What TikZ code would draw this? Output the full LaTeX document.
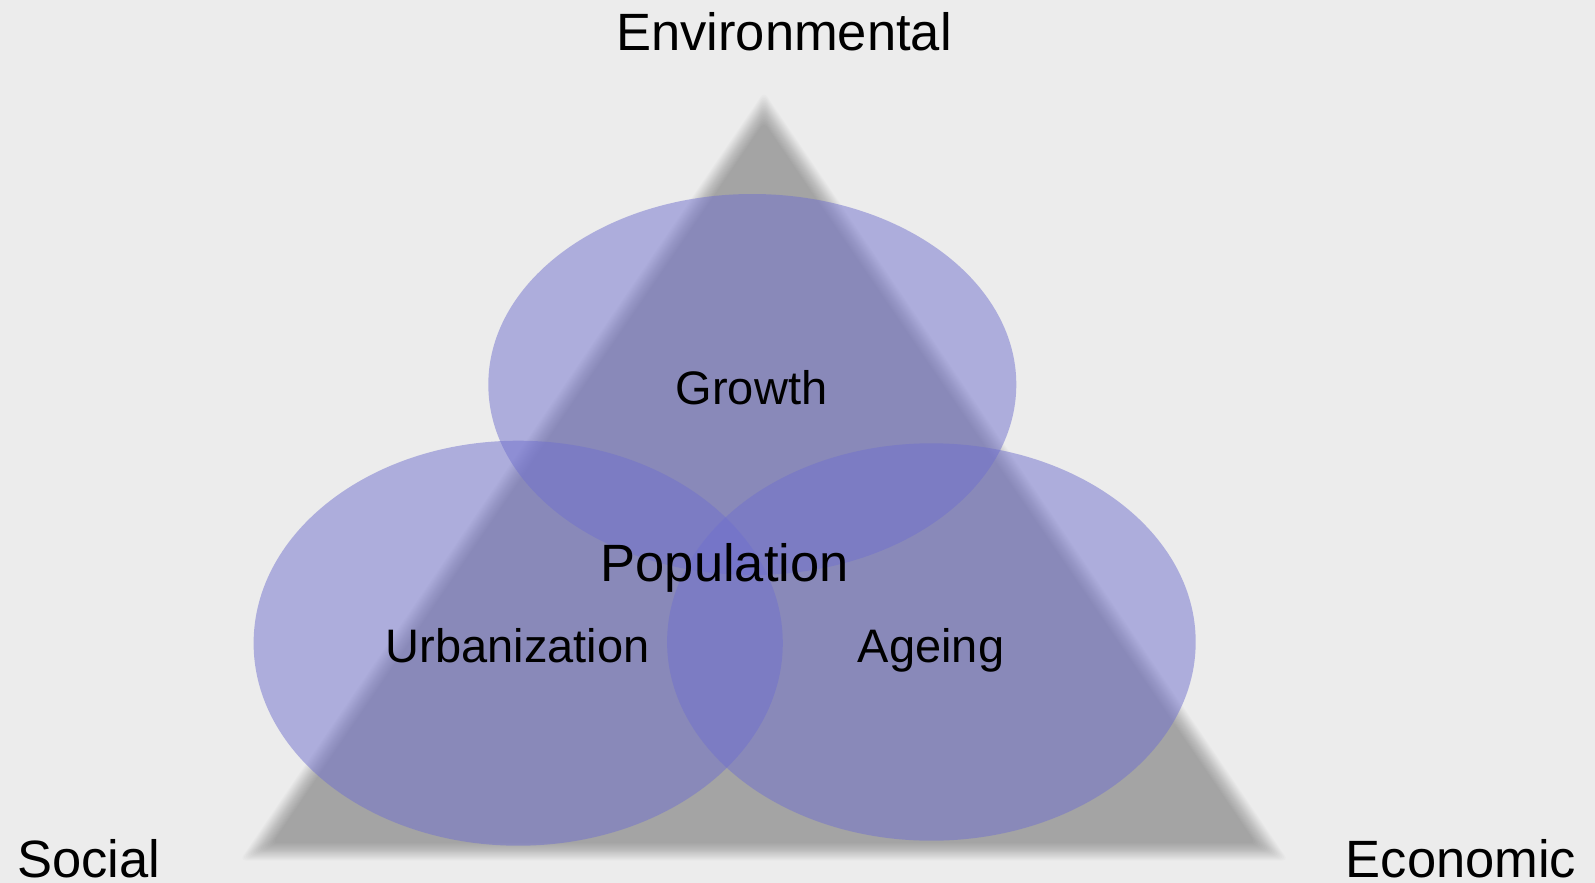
\documentclass[tikz,border=0pt]{standalone}
\usepackage{fontspec}
\setmainfont{Liberation Sans}
\definecolor{bgcol}{RGB}{236,236,236}
\definecolor{bubblecol}{RGB}{112,112,206}
\begin{document}
\begin{tikzpicture}[x=1pt,y=-1pt,
  bubble/.style={fill=bubblecol, fill opacity=0.5},
  blurlayer/.style={fill=black, fill opacity=0.0164, rounded corners=6pt},
  biglabel/.style={font=\fontsize{52.5}{60}\selectfont, inner sep=0pt, anchor=base, text=black},
  smalllabel/.style={font=\fontsize{47}{54}\selectfont, inner sep=0pt, anchor=base, text=black}]
\fill[bgcol] (0,0) rectangle (1595,883);
\useasboundingbox (0,0) rectangle (1595,883);
% blurred triangle
\coordinate (I) at (764,583);
\foreach \k in {0,...,19}{
  \pgfmathsetmacro\s{(269 - 9 + 18*(\k+0.5)/20)/269}
  \fill[blurlayer, scale around={\s:(I)}] (256,852) -- (1272,852) -- (764,107) -- cycle;
}
% bubbles
\fill[bubble] (752.3,384.5) ellipse [x radius=264, y radius=190.5];
\fill[bubble] (518.2,643.2) ellipse [x radius=264.6, y radius=202.5];
\fill[bubble] (931.4,642) ellipse [x radius=264.3, y radius=198.7];
% labels
\node[biglabel] (env) at (784,51) {Environmental};
\node[biglabel] (soc) at (88.5,877) {Social};
\node[biglabel] (eco) at (1461,877) {Economic};
\node[smalllabel] (gro) at (751.5,404) {Growth};
\node[biglabel] (pop) at (724.7,581) {Population};
\node[smalllabel] (urb) at (517.8,662) {Urbanization};
\node[smalllabel] (age) at (931,662) {Ageing};
\end{tikzpicture}
\end{document}
